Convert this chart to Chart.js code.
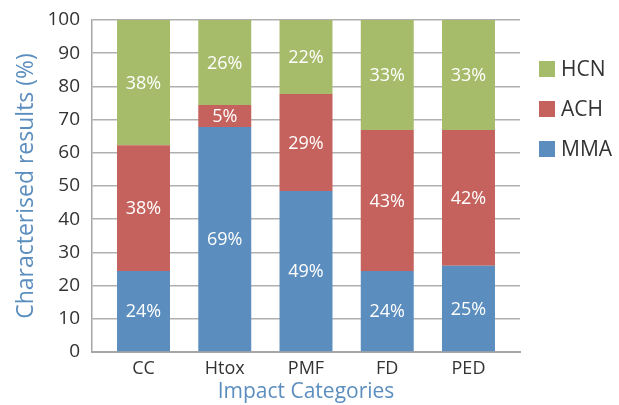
<!DOCTYPE html>
<html>
<head>
<meta charset="utf-8">
<script src="https://cdn.jsdelivr.net/npm/chart.js@4/dist/chart.umd.min.js"></script>
<style>
	html, body { margin: 0; padding: 0; background: #fff; overflow: hidden; }
	#wrap { width: 619px; height: 405px; position: relative; }
</style>
</head>
<body>
<div id="wrap"><canvas id="chart"></canvas></div>
<script>
// Impact categories on the x axis
var categories = ['CC', 'Htox', 'PMF', 'FD', 'PED'];

// Stacked shares (%)
var mmaValues = [24.4, 67.8, 48.5, 24.4, 26.0];
var achValues = [37.9, 6.6, 29.2, 42.5, 40.9];
var hcnValues = [37.7, 25.6, 22.3, 33.1, 33.1];

// Printed labels inside each segment
var mmaLabels = ['24%', '69%', '49%', '24%', '25%'];
var achLabels = ['38%', '5%', '29%', '43%', '42%'];
var hcnLabels = ['38%', '26%', '22%', '33%', '33%'];

var yTicks = [0, 10, 20, 30, 40, 50, 60, 70, 80, 90, 100];

var font = '"Open Sans", "DejaVu Sans", sans-serif';
var blue = '#5b8ebe';

// category index -> {x, y} so the bars sit on a linear x scale
var points = function(values) {
	return values.map(function(v, i) { return { x: i, y: v }; });
};

// Writes the percentage in the middle of each segment
var segmentLabels = {
	id: 'segmentLabels',
	afterDatasetsDraw: function(chart) {
		var ctx = chart.ctx;
		ctx.save();
		ctx.fillStyle = '#ffffff';
		ctx.font = '18px ' + font;
		ctx.textAlign = 'center';
		ctx.textBaseline = 'middle';
		chart.data.datasets.forEach(function(ds, i) {
			var meta = chart.getDatasetMeta(i);
			meta.data.forEach(function(bar, j) {
				ctx.fillText(ds.printed[j], bar.x, (bar.y + bar.base) / 2 + 1);
			});
		});
		ctx.restore();
	}
};

// Legend on the right, top entry is the top of the stack
var sideLegend = {
	id: 'sideLegend',
	afterDraw: function(chart) {
		var ctx = chart.ctx;
		var sets = chart.data.datasets.slice().reverse();
		ctx.save();
		ctx.font = '21px ' + font;
		ctx.textBaseline = 'middle';
		ctx.textAlign = 'left';
		for (var i = 0; i < sets.length; i++) {
			var cy = 69 + i * 40;
			ctx.fillStyle = sets[i].backgroundColor;
			ctx.fillRect(539, cy - 8, 16, 16);
			ctx.fillStyle = '#333333';
			ctx.fillText(sets[i].label, 561, cy + 1);
		}
		ctx.restore();
	}
};

var chart = new Chart(document.getElementById('chart'), {
	type: 'bar',
	data: {
		labels: categories,
		datasets: [
			{ label: 'MMA', data: points(mmaValues), printed: mmaLabels, backgroundColor: '#5b8ebe' },
			{ label: 'ACH', data: points(achValues), printed: achLabels, backgroundColor: '#c5625d' },
			{ label: 'HCN', data: points(hcnValues), printed: hcnLabels, backgroundColor: '#a7bc6a' }
		]
	},
	options: {
		responsive: true,
		maintainAspectRatio: false,
		animation: false,
		layout: { padding: { top: 20, right: 99, left: 0, bottom: 0 } },
		datasets: { bar: { barPercentage: 0.652, categoryPercentage: 1 } },
		plugins: {
			legend: { display: false },
			tooltip: { enabled: false }
		},
		scales: {
			x: {
				type: 'linear',
				offset: false,
				stacked: true,
				min: -0.634,
				max: 4.634,
				afterBuildTicks: function(scale) {
					scale.ticks = categories.map(function(c, i) { return { value: i }; });
				},
				grid: { display: false, drawTicks: false },
				border: { color: '#a6a6a6', width: 2 },
				ticks: {
					color: '#333333',
					font: { family: font, size: 18 },
					padding: 6,
					callback: function(v) { return categories[v]; }
				},
				title: { display: true, text: 'Impact Categories', color: blue, font: { family: font, size: 21 }, padding: { top: 2, bottom: 0 } },
				afterFit: function(scale) { scale.height = 53; }
			},
			y: {
				stacked: true,
				min: 0,
				max: 100,
				afterBuildTicks: function(scale) {
					scale.ticks = yTicks.map(function(v) { return { value: v }; });
				},
				grid: { color: '#b0b0b0', lineWidth: 1.5, drawTicks: false },
				border: { color: '#a6a6a6', width: 1.5 },
				ticks: { color: '#333333', font: { family: font, size: 19 }, padding: 12 },
				title: { display: true, text: 'Characterised results (%)', color: blue, font: { family: font, size: 23 }, padding: { top: 13, bottom: 0 } },
				afterFit: function(scale) {
					scale.width = 92;
					// label overflow fits inside the 20px top padding
					scale.paddingTop = 0;
					scale.paddingBottom = 0;
				}
			}
		}
	},
	plugins: [segmentLabels, sideLegend]
});
</script>
</body>
</html>
